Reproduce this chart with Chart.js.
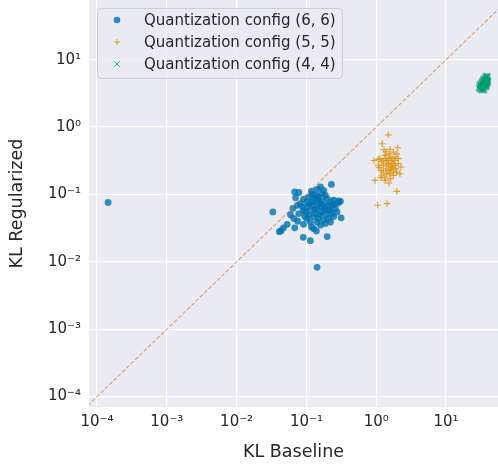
<!DOCTYPE html>
<html>
<head>
<meta charset="utf-8">
<script src="https://cdn.jsdelivr.net/npm/chart.js@4.4.0/dist/chart.umd.min.js"></script>
<style>
  body { margin: 0; background: #fff; }
</style>
</head>
<body>
<canvas id="klChart" width="498" height="465"></canvas>
<script>
// decades shown on both axes
var decades = [1e-4, 1e-3, 1e-2, 1e-1, 1, 10];
var decadeLabels = ['10⁻⁴', '10⁻³', '10⁻²', '10⁻¹', '10⁰', '10¹'];

var seriesNames = ['Quantization config (6, 6)', 'Quantization config (5, 5)', 'Quantization config (4, 4)'];

// config (6, 6)
var kl66Base = [
    0.068, 0.078, 0.228, 0.159, 0.177, 0.142, 0.121, 0.108, 0.091, 0.070,
    0.082, 0.074, 0.033, 0.064, 0.059, 0.066, 0.075, 0.091, 0.053, 0.047,
    0.0434, 0.041, 0.068, 0.118, 0.127, 0.139, 0.198, 0.090, 0.114, 0.142,
    0.314, 0.246, 0.290, 0.307, 0.104, 0.114, 0.127, 0.142, 0.159, 0.168,
    0.187, 0.209, 0.233, 0.260, 0.221, 0.198, 0.150, 0.127, 0.108, 0.127,
    0.150, 0.177, 0.209, 0.246, 0.114, 0.159, 0.187, 0.097, 0.135, 0.168,
    0.187, 0.233, 0.275, 0.102, 0.121, 0.142, 0.102, 0.142, 0.221, 0.091,
    0.078, 0.087, 0.000144, 0.170, 0.190, 0.132, 0.155, 0.200, 0.112, 0.162,
    0.250, 0.138, 0.118, 0.145, 0.180, 0.220, 0.095, 0.285
];
var kl66Reg = [
    0.109, 0.107, 0.141, 0.129, 0.115, 0.119, 0.100, 0.092, 0.085, 0.089,
    0.073, 0.069, 0.055, 0.062, 0.050, 0.044, 0.040, 0.036, 0.036, 0.032,
    0.029, 0.028, 0.032, 0.033, 0.031, 0.0286, 0.0237, 0.0231, 0.0206, 0.0083,
    0.045, 0.082, 0.080, 0.079, 0.066, 0.058, 0.069, 0.062, 0.073, 0.055,
    0.066, 0.058, 0.052, 0.062, 0.078, 0.087, 0.092, 0.087, 0.049, 0.047,
    0.044, 0.042, 0.044, 0.047, 0.039, 0.035, 0.037, 0.055, 0.052, 0.103,
    0.097, 0.069, 0.055, 0.078, 0.078, 0.078, 0.044, 0.039, 0.039, 0.058,
    0.052, 0.066, 0.076, 0.080, 0.050, 0.060, 0.050, 0.070, 0.072, 0.066,
    0.071, 0.098, 0.112, 0.085, 0.060, 0.058, 0.047, 0.075
];

// config (5, 5)
var kl55Base = [
    1.49, 1.22, 2.03, 1.29, 1.76, 1.52, 1.34, 0.93, 1.86, 2.07,
    1.13, 1.20, 1.42, 1.68, 1.49, 1.26, 1.86, 1.07, 2.27, 1.38,
    1.63, 1.17, 1.97, 2.19, 1.42, 1.76, 1.17, 0.96, 1.61, 1.52,
    1.34, 1.97, 1.05, 1.43, 1.58, 1.34, 1.68, 1.49, 1.76, 1.58,
    1.26, 1.42, 1.68, 1.86, 1.49, 1.26, 2.07, 1.07, 1.38, 1.58,
    1.97, 1.10, 1.76, 1.34, 1.20, 1.55, 1.90
];
var kl55Reg = [
    0.767, 0.565, 0.493, 0.460, 0.426, 0.400, 0.380, 0.320, 0.360, 0.340,
    0.340, 0.303, 0.320, 0.303, 0.286, 0.270, 0.270, 0.270, 0.256, 0.241,
    0.233, 0.228, 0.216, 0.204, 0.204, 0.192, 0.178, 0.162, 0.172, 0.148,
    0.162, 0.111, 0.069, 0.073, 0.360, 0.340, 0.340, 0.320, 0.286, 0.261,
    0.320, 0.286, 0.250, 0.320, 0.228, 0.216, 0.286, 0.330, 0.430, 0.470,
    0.400, 0.250, 0.216, 0.180, 0.190, 0.204, 0.240
];

// config (4, 4)
var kl44Base = [
    30.5, 32.0, 33.5, 35.0, 36.5, 38.0, 39.5, 37.0, 35.5, 34.0,
    32.5, 31.0, 33.0, 34.5, 36.0, 37.5, 39.0, 40.5, 38.5, 36.2,
    34.8, 33.2, 31.8, 30.0, 29.5, 32.8, 35.5, 37.2, 38.8, 40.0,
    36.8, 35.2, 33.8, 37.8, 39.8, 34.2, 35.8, 37.4, 31.2, 33.6,
    36.4, 38.2, 34.6, 36.6, 32.2, 30.8, 35.0, 39.3, 37.9, 33.0,
    35.9, 34.3, 36.9, 38.6
];
var kl44Reg = [
    3.7, 3.9, 4.1, 4.3, 4.5, 4.8, 5.1, 5.4, 5.0, 4.7,
    4.4, 4.2, 3.6, 3.8, 4.0, 4.2, 4.5, 4.9, 5.5, 5.2,
    4.5, 4.3, 4.0, 4.1, 3.8, 3.5, 3.7, 3.9, 4.3, 4.6,
    4.7, 4.9, 5.0, 5.2, 5.6, 4.2, 4.4, 4.6, 3.6, 3.9,
    4.2, 4.0, 5.3, 5.7, 4.6, 4.4, 3.5, 4.8, 4.4, 4.8,
    4.6, 4.0, 5.0, 5.8
];

// y = x reference line
var diagX = [1e-5, 1e3];
var diagY = [1e-5, 1e3];

function toPoints(xs, ys) {
    return xs.map(function(x, i) {
        return { x: x, y: ys[i] };
    });
}

var textColor = '#262626';
var fontFamily = '"DejaVu Sans", sans-serif';

var colors = {
    blue: 'rgba(1, 115, 178, 0.8)',
    orange: 'rgba(222, 143, 5, 0.85)',
    green: 'rgba(2, 158, 115, 0.85)'
};

// фон осей в стиле seaborn
var backgroundPlugin = {
    id: 'axesBackground',
    beforeDraw: function(chart) {
        var ctx = chart.ctx;
        var a = chart.chartArea;
        ctx.save();
        ctx.fillStyle = '#ffffff';
        ctx.fillRect(0, 0, chart.width, chart.height);
        ctx.fillStyle = '#EAEAF2';
        ctx.fillRect(a.left, a.top, a.right - a.left, a.bottom - a.top);
        ctx.restore();
    }
};

// легенда в рамке внутри области графика
var legendBoxPlugin = {
    id: 'legendBox',
    afterDraw: function(chart) {
        var ctx = chart.ctx;
        var a = chart.chartArea;
        var x0 = a.left + 8, y0 = a.top + 8, w = 245, h = 70;
        ctx.save();
        ctx.beginPath();
        ctx.roundRect(x0 + 0.5, y0 + 0.5, w, h, 4);
        ctx.fillStyle = 'rgba(234, 234, 242, 0.8)';
        ctx.fill();
        ctx.strokeStyle = '#cccccc';
        ctx.lineWidth = 1;
        ctx.stroke();

        var rows = [
            { style: 'circle', color: colors.blue, radius: 3.3, width: 0 },
            { style: 'cross', color: colors.orange, radius: 3, width: 1 },
            { style: 'crossRot', color: colors.green, radius: 3.8, width: 1 }
        ];
        ctx.font = '15px ' + fontFamily;
        ctx.textBaseline = 'middle';
        rows.forEach(function(r, i) {
            var cy = y0 + 12 + i * 22;
            ctx.fillStyle = r.color;
            ctx.strokeStyle = r.color;
            ctx.lineWidth = r.width;
            Chart.helpers.drawPoint(ctx, {
                pointStyle: r.style,
                radius: r.radius,
                borderWidth: r.width,
                rotation: 0
            }, x0 + 20, cy);
            ctx.fillStyle = textColor;
            ctx.fillText(seriesNames[i], x0 + 47, cy + 1);
        });
        ctx.restore();
    }
};

function logAxis(min, max, titleText, isX) {
    return {
        type: 'logarithmic',
        min: min,
        max: max,
        afterBuildTicks: function(scale) {
            scale.ticks = decades.map(function(v) {
                return { value: v };
            });
        },
        afterFit: function(scale) {
            if (isX) {
                scale.height = 58;
            } else {
                scale.width = 89;
            }
            // no extra room for edge tick labels
            scale.paddingTop = 0;
            scale.paddingBottom = 0;
            scale.paddingLeft = 0;
            scale.paddingRight = 0;
        },
        ticks: {
            autoSkip: false,
            maxRotation: 0,
            padding: isX ? 6 : 8,
            color: textColor,
            font: { family: fontFamily, size: 15 },
            callback: function(value, index) {
                return decadeLabels[index];
            }
        },
        grid: {
            color: '#ffffff',
            lineWidth: 1.3,
            drawTicks: false
        },
        border: { display: false },
        title: {
            display: true,
            text: titleText,
            color: textColor,
            font: { family: fontFamily, size: 17.5 },
            padding: isX ? { top: 0, bottom: 2 } : { top: 7, bottom: 0 }
        }
    };
}

var ctx = document.getElementById('klChart').getContext('2d');
new Chart(ctx, {
    type: 'scatter',
    data: {
        datasets: [
            {
                type: 'line',
                label: 'y = x',
                data: toPoints(diagX, diagY),
                borderColor: 'rgba(213, 94, 0, 0.5)',
                borderWidth: 1.2,
                borderDash: [4, 2],
                pointRadius: 0,
                fill: false,
                order: 0
            },
            {
                label: seriesNames[0],
                data: toPoints(kl66Base, kl66Reg),
                backgroundColor: colors.blue,
                borderWidth: 0,
                pointStyle: 'circle',
                pointRadius: 3.4,
                order: 1
            },
            {
                label: seriesNames[1],
                data: toPoints(kl55Base, kl55Reg),
                borderColor: colors.orange,
                backgroundColor: colors.orange,
                borderWidth: 1.1,
                pointStyle: 'cross',
                pointRadius: 3.3,
                order: 2
            },
            {
                label: seriesNames[2],
                data: toPoints(kl44Base, kl44Reg),
                borderColor: colors.green,
                backgroundColor: colors.green,
                borderWidth: 1.1,
                pointStyle: 'crossRot',
                pointRadius: 4,
                order: 3
            }
        ]
    },
    options: {
        responsive: false,
        animation: false,
        layout: { padding: 0, autoPadding: false },
        scales: {
            x: logAxis(7.67e-5, 55.6, 'KL Baseline', true),
            y: logAxis(7.4e-5, 77, 'KL Regularized', false)
        },
        plugins: {
            legend: { display: false },
            tooltip: { enabled: false }
        }
    },
    plugins: [backgroundPlugin, legendBoxPlugin]
});
</script>
</body>
</html>
